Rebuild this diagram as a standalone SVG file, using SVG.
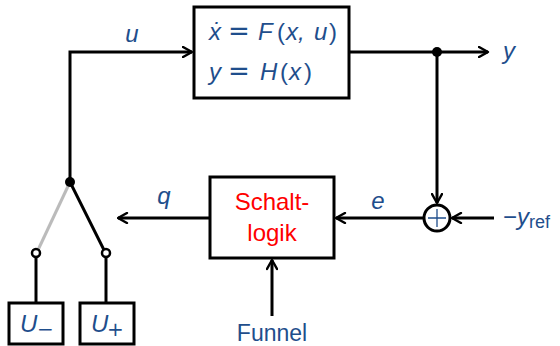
<svg xmlns="http://www.w3.org/2000/svg" width="560" height="346" viewBox="0 0 560 346">
<defs>
<marker id="arr" viewBox="0 0 12 12" refX="10.5" refY="6" markerWidth="12" markerHeight="12" markerUnits="userSpaceOnUse" orient="auto">
<path d="M1.5,1 L10.5,6 L1.5,11" fill="none" stroke="#000" stroke-width="2.4" stroke-linecap="round" stroke-linejoin="round"/>
</marker>
<style>
.box{fill:#fff;stroke:#000;stroke-width:3}
.ln{fill:none;stroke:#000;stroke-width:3}
.m{font-family:"Liberation Sans",Arial,sans-serif;font-style:italic;font-size:24px;fill:#1f4e8c}
.n{font-style:normal}
.eq{font-style:normal;font-family:"DejaVu Sans",sans-serif;font-size:26px}
.sub{font-style:normal;font-family:"DejaVu Sans",sans-serif;font-size:20px}
.t{font-family:"Liberation Sans",Arial,sans-serif;font-size:23px;fill:#1f4e8c}
.r{font-family:"Liberation Sans",Arial,sans-serif;font-size:24px;fill:#ff0000}
</style>
</defs>
<g id="connectors">
<polyline class="ln" points="70,182 70,52 192,52" marker-end="url(#arr)"/>
<line class="ln" x1="349" y1="52" x2="488" y2="52" marker-end="url(#arr)"/>
<line class="ln" x1="437" y1="52" x2="437" y2="203" marker-end="url(#arr)"/>
<line class="ln" x1="494" y1="218" x2="452" y2="218" marker-end="url(#arr)"/>
<line class="ln" x1="424" y1="218" x2="336" y2="218" marker-end="url(#arr)"/>
<line class="ln" x1="210" y1="218" x2="118" y2="218" marker-end="url(#arr)"/>
<line class="ln" x1="272" y1="316" x2="272" y2="260" marker-end="url(#arr)"/>
<line x1="70" y1="182" x2="38" y2="250" stroke="#bbb" stroke-width="3"/>
<line class="ln" x1="70" y1="182" x2="104" y2="250"/>
<line class="ln" x1="36" y1="257" x2="36" y2="303"/>
<line class="ln" x1="106" y1="257" x2="106" y2="303"/>
<circle cx="70" cy="182" r="5" fill="#000"/>
<circle cx="437" cy="52" r="5" fill="#000"/>
<circle cx="36" cy="253" r="4" fill="#fff" stroke="#000" stroke-width="2.5"/>
<circle cx="106" cy="253" r="4" fill="#fff" stroke="#000" stroke-width="2.5"/>
<text class="m" x="132" y="42" text-anchor="middle">u</text>
<text class="m" x="503" y="59">y</text>
<text class="m" x="164" y="204" text-anchor="middle">q</text>
<text class="m" x="378" y="209" text-anchor="middle">e</text>
<text class="m" x="503" y="225"><tspan class="n">−</tspan>y<tspan class="n" font-size="18" dy="3">ref</tspan></text>
<text class="t" x="272" y="341" text-anchor="middle">Funnel</text>
</g>
<g id="plant">
<rect class="box" x="194" y="7" width="155" height="91"/>
<text class="m" y="40"><tspan x="209">ẋ</tspan><tspan class="eq" x="228">=</tspan><tspan x="258">F</tspan><tspan class="n" x="277">(</tspan><tspan x="286">x,</tspan><tspan x="314">u</tspan><tspan class="n" x="329">)</tspan></text>
<text class="m" y="80"><tspan x="209">y</tspan><tspan class="eq" x="228">=</tspan><tspan x="260">H</tspan><tspan class="n" x="280">(</tspan><tspan x="289">x</tspan><tspan class="n" x="304">)</tspan></text>
</g>
<g id="schaltlogik">
<rect class="box" x="210" y="177" width="124" height="81"/>
<text class="r" x="272" y="210" text-anchor="middle">Schalt-</text>
<text class="r" x="272" y="241" text-anchor="middle">logik</text>
</g>
<g id="sum">
<circle cx="437" cy="218" r="13" fill="#fff" stroke="#000" stroke-width="3"/>
<path d="M428,218 H446 M437,209 V227" stroke="#1f4e8c" stroke-width="1.3"/>
</g>
<g id="uminus">
<rect class="box" x="9" y="303" width="54" height="41"/>
<text class="m" x="20" y="332">U<tspan class="sub" x="37" dy="4">−</tspan></text>
</g>
<g id="uplus">
<rect class="box" x="80" y="303" width="54" height="41"/>
<text class="m" x="91" y="332">U<tspan class="sub" x="107" dy="4">+</tspan></text>
</g>
</svg>
